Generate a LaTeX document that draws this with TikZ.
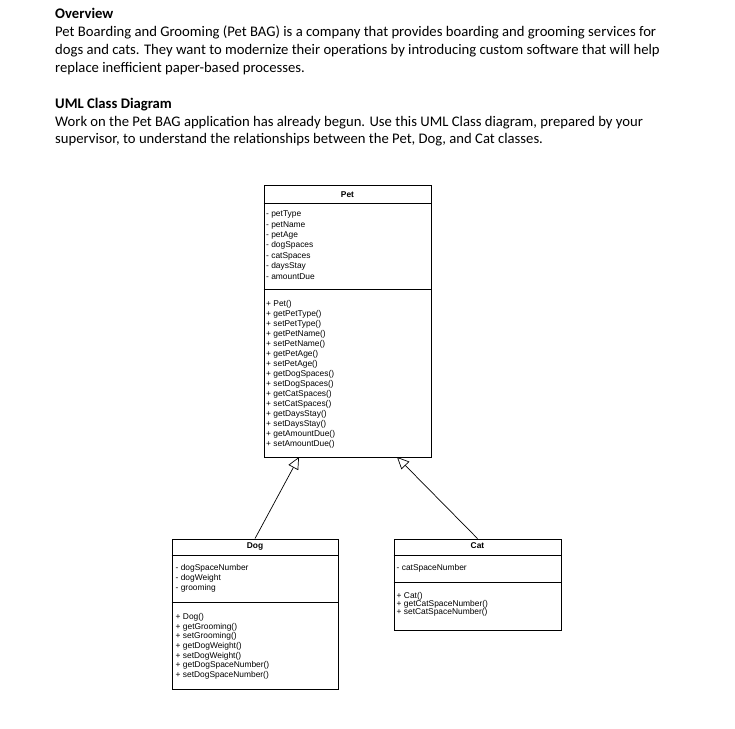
\documentclass[tikz,border=0pt]{standalone}
\usepackage{fontspec}
\setmainfont{Carlito}
\newfontfamily\umlfont{Liberation Sans}
\usetikzlibrary{arrows.meta}
\begin{document}
\begin{tikzpicture}[x=1pt,y=-1pt,
  hdr/.style={anchor=base west, inner sep=0, font=\fontsize{14.67}{18}\selectfont},
  hdrb/.style={anchor=base west, inner sep=0, font=\fontsize{14.67}{18}\selectfont\bfseries},
  clsbox/.style={draw, line width=0.9pt, inner sep=0},
  divider/.style={line width=0.9pt},
  mem/.style={anchor=base west, inner sep=0, font=\umlfont\fontsize{8.4}{10}\selectfont},
  ttl/.style={anchor=base, inner sep=0, font=\umlfont\bfseries\fontsize{8.4}{10}\selectfont},
  inherit/.style={line width=0.7pt, -{Triangle[open, length=12pt, width=11pt, line width=0.7pt]}}
]
\useasboundingbox[fill=white] (0,0) rectangle (735,728);

% header text
\node[hdrb] (h1) at (55,18.5) {Overview};
\node[hdr] (h2) at (55,36.7) {Pet Boarding and Grooming (Pet BAG) is a company that provides boarding and grooming services for};
\node[hdr] (h3) at (55,54.5) {dogs and cats. They want to modernize their operations by introducing custom software that will help};
\node[hdr] (h4) at (55,72.2) {replace inefficient paper-based processes.};
\node[hdrb] (h5) at (55,108.3) {UML Class Diagram};
\node[hdr] (h6) at (55,126) {Work on the Pet BAG application has already begun. Use this UML Class diagram, prepared by your};
\node[hdr] (h7) at (55,143.6) {supervisor, to understand the relationships between the Pet, Dog, and Cat classes.};

% Pet class
\node[clsbox, minimum width=167pt, minimum height=272pt] (pet) at (347.5,321) {};
\draw[divider] (pet.west |- 0,203) -- (pet.east |- 0,203);
\draw[divider] (pet.west |- 0,289) -- (pet.east |- 0,289);
\node[ttl] (pett) at (347.5,197) {Pet};
\foreach \t [count=\i from 0] in {- petType, - petName, - petAge, - dogSpaces, - catSpaces, - daysStay, - amountDue}
  \node[mem] (pa\i) at (266,216.7+10.4*\i) {\t};
\foreach \t [count=\i from 0] in {+ Pet(), + getPetType(), + setPetType(), + getPetName(), + setPetName(), + getPetAge(), + setPetAge(), + getDogSpaces(), + setDogSpaces(), + getCatSpaces(), + setCatSpaces(), + getDaysStay(), + setDaysStay(), + getAmountDue(), + setAmountDue()}
  \node[mem] (pm\i) at (266,306.7+10*\i) {\t};

% Dog class
\node[clsbox, minimum width=166pt, minimum height=150pt] (dog) at (255,614) {};
\draw[divider] (dog.west |- 0,555.5) -- (dog.east |- 0,555.5);
\draw[divider] (dog.west |- 0,602) -- (dog.east |- 0,602);
\node[ttl] (dogt) at (255,548.3) {Dog};
\foreach \t [count=\i from 0] in {- dogSpaceNumber, - dogWeight, - grooming}
  \node[mem] (da\i) at (175.5,570+10*\i) {\t};
\foreach \t [count=\i from 0] in {+ Dog(), + getGrooming(), + setGrooming(), + getDogWeight(), + setDogWeight(), + getDogSpaceNumber(), + setDogSpaceNumber()}
  \node[mem] (dm\i) at (175.5,619.3+9.73*\i) {\t};

% Cat class
\node[clsbox, minimum width=167pt, minimum height=91pt] (cat) at (477.5,584.5) {};
\draw[divider] (cat.west |- 0,555.5) -- (cat.east |- 0,555.5);
\draw[divider] (cat.west |- 0,582.3) -- (cat.east |- 0,582.3);
\node[ttl] (catt) at (477.5,548.3) {Cat};
\node[mem] (ca0) at (396.5,570) {- catSpaceNumber};
\foreach \t [count=\i from 0] in {+ Cat(), + getCatSpaceNumber(), + setCatSpaceNumber()}
  \node[mem] (cm\i) at (396.5,598.3+8.3*\i) {\t};

% inheritance
\coordinate (tipD) at (299,457);
\coordinate (tipC) at (397,457);
\draw[inherit] (dog.north) -- (tipD);
\draw[inherit] (cat.north) -- (tipC);
\end{tikzpicture}
\end{document}
